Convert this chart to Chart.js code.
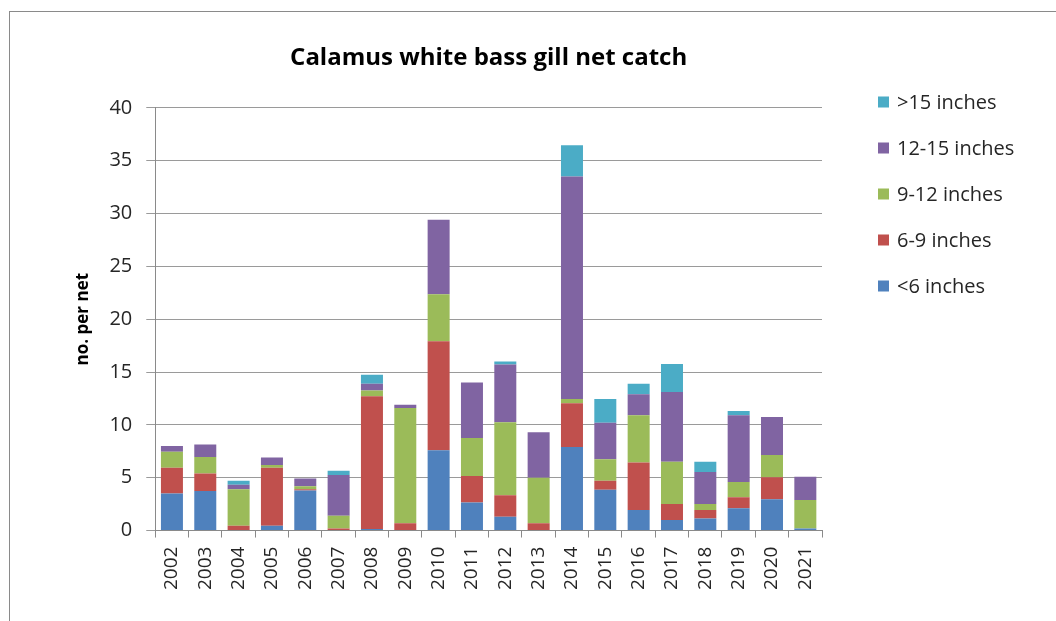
<!DOCTYPE html>
<html>
<head>
<meta charset="utf-8">
<script src="https://cdn.jsdelivr.net/npm/chart.js@4.4.1/dist/chart.umd.min.js"></script>
<style>
  html, body { margin: 0; padding: 0; background: #ffffff; }
  #wrap { position: relative; width: 1056px; height: 621px; overflow: hidden; background: #fff; }
  #frame { position: absolute; left: 9px; top: 11px; width: 1200px; height: 800px;
           border-left: 1px solid #8a8a8a; border-top: 1px solid #8a8a8a; }
  canvas { position: absolute; left: 0; top: 0; }
</style>
</head>
<body>
<div id="wrap">
  <div id="frame"></div>
  <canvas id="c" width="1056" height="621"></canvas>
</div>
<script>
// ---- data ----
const years = ['2002','2003','2004','2005','2006','2007','2008','2009','2010','2011',
               '2012','2013','2014','2015','2016','2017','2018','2019','2020','2021'];
const under6   = [3.5, 3.75, 0, 0.45, 3.8, 0.05, 0.15, 0, 7.6, 2.65, 1.3, 0, 7.9, 3.85, 1.95, 1.0, 1.15, 2.1, 2.95, 0.2];
const in6to9   = [2.45, 1.65, 0.45, 5.5, 0.1, 0.15, 12.55, 0.7, 10.3, 2.5, 2.05, 0.7, 4.15, 0.85, 4.5, 1.5, 0.8, 1.05, 2.1, 0];
const in9to12  = [1.5, 1.55, 3.45, 0.25, 0.3, 1.2, 0.55, 10.9, 4.45, 3.6, 6.9, 4.3, 0.4, 2.05, 4.45, 4.0, 0.55, 1.45, 2.1, 2.7];
const in12to15 = [0.55, 1.2, 0.44, 0.7, 0.72, 3.85, 0.65, 0.3, 7.05, 5.25, 5.45, 4.3, 21.05, 3.45, 2.0, 6.6, 3.05, 6.3, 3.6, 2.2];
const over15   = [0, 0, 0.38, 0, 0, 0.4, 0.85, 0, 0, 0, 0.3, 0, 2.95, 2.25, 1.0, 2.65, 0.95, 0.4, 0, 0];
const seriesLabels = ['<6 inches', '6-9 inches', '9-12 inches', '12-15 inches', '>15 inches'];
const seriesColors = ['#4F81BD', '#C0504D', '#9BBB59', '#8064A2', '#4BACC6'];
const yTicks = [0, 5, 10, 15, 20, 25, 30, 35, 40];
const chartTitle = 'Calamus white bass gill net catch';
const yTitle = 'no. per net';

Chart.defaults.font.family = "'Open Sans', 'Liberation Sans', sans-serif";
Chart.defaults.color = '#262626';

const seriesData = [under6, in6to9, in9to12, in12to15, over15];
const datasets = seriesData.map((d, i) => ({
  label: seriesLabels[i],
  data: d,
  backgroundColor: seriesColors[i],
  borderWidth: 0,
  barPercentage: 0.66,
  categoryPercentage: 1.0
}));

// custom legend drawn at the right, reversed order like the reference
const sideLegend = {
  id: 'sideLegend',
  afterDraw(chart) {
    const ctx = chart.ctx;
    const dsList = chart.data.datasets.slice().reverse();
    const x0 = 878, y0 = 102, step = 46, box = 11;
    ctx.save();
    ctx.font = "20px 'Open Sans', 'Liberation Sans', sans-serif";
    ctx.textBaseline = 'middle';
    ctx.textAlign = 'left';
    dsList.forEach((ds, i) => {
      const y = y0 + i * step;
      ctx.fillStyle = ds.backgroundColor;
      ctx.fillRect(x0, y - box / 2, box, box);
      ctx.fillStyle = '#262626';
      ctx.fillText(ds.label, x0 + 19, y + 1);
    });
    ctx.restore();
  }
};

new Chart(document.getElementById('c'), {
  type: 'bar',
  data: { labels: years, datasets },
  options: {
    responsive: false,
    animation: false,
    layout: { padding: { left: 69, right: 234, top: 0, bottom: 22 } },
    plugins: {
      legend: { display: false },
      tooltip: { enabled: false },
      title: {
        display: true,
        text: chartTitle,
        fullSize: false,
        color: '#000',
        font: { size: 24, weight: 'bold' },
        padding: { top: 44, bottom: 35 }
      }
    },
    scales: {
      x: {
        stacked: true,
        grid: { display: true, drawOnChartArea: false, drawTicks: true, tickLength: 7,
                offset: true, color: '#8a8a8a', lineWidth: 1 },
        border: { display: true, color: '#8a8a8a', width: 1 },
        ticks: { autoSkip: false, maxRotation: 90, minRotation: 90, padding: 9,
                 font: { size: 19 }, color: '#262626' }
      },
      y: {
        stacked: true,
        min: 0, max: 40,
        afterBuildTicks(axis) { axis.ticks = yTicks.map(v => ({ value: v })); },
        grid: { color: '#9a9a9a', lineWidth: 1, drawTicks: true, tickLength: 9 },
        border: { display: true, color: '#8a8a8a', width: 1 },
        ticks: { padding: 14, font: { size: 20 }, color: '#262626' },
        title: { display: true, text: yTitle, color: '#000',
                 font: { size: 17, weight: 'bold' }, padding: { top: 4, bottom: 2 } }
      }
    }
  },
  plugins: [sideLegend]
});
</script>
</body>
</html>
